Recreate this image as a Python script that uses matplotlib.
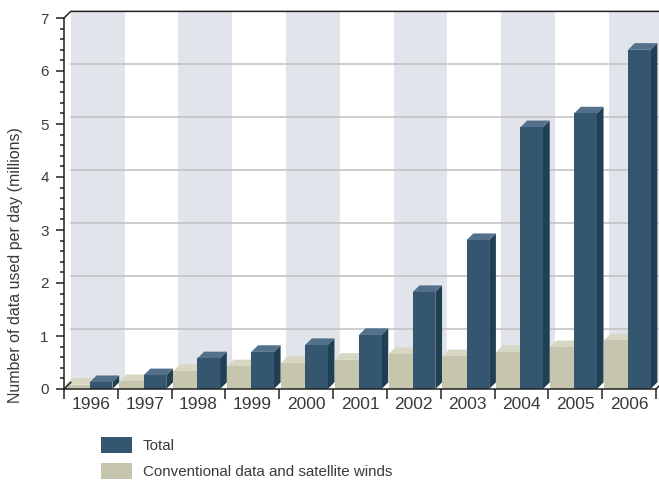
import matplotlib
matplotlib.use("Agg")
import matplotlib.pyplot as plt
from matplotlib.patches import Rectangle, Polygon
from matplotlib.ticker import MultipleLocator, FixedLocator, NullFormatter

plt.rcParams['font.family'] = ['Liberation Sans', 'DejaVu Sans']

years = ['1996', '1997', '1998', '1999', '2000', '2001',
         '2002', '2003', '2004', '2005', '2006']
total = [0.13, 0.26, 0.58, 0.70, 0.83, 1.02, 1.83, 2.81, 4.94, 5.20, 6.40]
conventional = [0.08, 0.15, 0.34, 0.43, 0.49, 0.55, 0.66, 0.62, 0.70, 0.79, 0.92]

TOTAL_FRONT, TOTAL_TOP, TOTAL_SIDE = '#35566f', '#53718a', '#213f53'
CONV_FRONT, CONV_TOP, CONV_SIDE = '#c6c6ae', '#d7d7c3', '#aeae96'
STRIPE = '#e2e4ec'
GRID = '#c0c0c0'
AXIS = '#222222'
TEXT = '#3a3a3a'

W, H = 659, 480
fig = plt.figure(figsize=(W / 100, H / 100), dpi=100)
ax = fig.add_axes([64 / W, 91 / H, 592 / W, 371 / H])
n = len(years)
ax.set_xlim(0, n)
ax.set_ylim(0, 7)

# depth offset of the pseudo-3d box (data units)
dx, dy = 0.125, 0.125

# back wall: alternating stripes and gridlines
for i in range(0, n, 2):
    ax.add_patch(Rectangle((i + dx, dy), 1, 7, facecolor=STRIPE,
                           edgecolor='none', clip_on=False, zorder=0))
for g in range(1, 7):
    ax.plot([dx, n + dx], [g + dy, g + dy], color=GRID, lw=1.1,
            clip_on=False, zorder=1)
# top edge and corner bevels
ax.plot([0, dx, n + dx], [7, 7 + dy, 7 + dy], color=AXIS, lw=1.1,
        clip_on=False, zorder=5)
ax.plot([0, dx], [0, dy], color=AXIS, lw=1.1, clip_on=False, zorder=5)
ax.plot([n, n + dx], [0, dy], color=AXIS, lw=1.1, clip_on=False, zorder=5)


def bar3d(x0, w, v, front, top, side):
    ax.add_patch(Polygon([(x0 + w, 0), (x0 + w + dx, dy), (x0 + w + dx, v + dy),
                          (x0 + w, v)], closed=True, facecolor=side,
                         edgecolor='none', zorder=3, clip_on=False))
    ax.add_patch(Polygon([(x0, v), (x0 + w, v), (x0 + w + dx, v + dy),
                          (x0 + dx, v + dy)], closed=True, facecolor=top,
                         edgecolor='none', zorder=3, clip_on=False))
    ax.add_patch(Rectangle((x0, 0), w, v, facecolor=front, edgecolor='none',
                           zorder=3, clip_on=False))


for i in range(n):
    bar3d(i + 0.03, 0.45, conventional[i], CONV_FRONT, CONV_TOP, CONV_SIDE)
    bar3d(i + 0.48, 0.42, total[i], TOTAL_FRONT, TOTAL_TOP, TOTAL_SIDE)

for s in ['top', 'right']:
    ax.spines[s].set_visible(False)
for s in ['left', 'bottom']:
    ax.spines[s].set_color(AXIS)
    ax.spines[s].set_linewidth(1.1)
    ax.spines[s].set_zorder(6)
ax.patch.set_visible(False)

ax.yaxis.set_major_locator(MultipleLocator(1))
ax.yaxis.set_minor_locator(MultipleLocator(0.2))
ax.tick_params(axis='y', which='major', length=6, width=1.1, color=AXIS,
               labelsize=11, labelcolor=TEXT, pad=5)
ax.tick_params(axis='y', which='minor', length=3, width=1.1, color=AXIS)

ax.xaxis.set_major_locator(FixedLocator(range(n + 1)))
ax.xaxis.set_major_formatter(NullFormatter())
ax.xaxis.set_minor_locator(FixedLocator([i + 0.5 for i in range(n)]))
ax.set_xticklabels(years, minor=True)
ax.tick_params(axis='x', which='major', length=7, width=1.1, color=AXIS)
ax.tick_params(axis='x', which='minor', length=0, labelsize=12.5,
               labelcolor=TEXT, pad=6)

fig.text(16 / W, 1 - 265 / H, 'Number of data used per day (millions)',
         rotation=90, ha='center', va='center', fontsize=11.5, color=TEXT)

# legend
for k, (label, col) in enumerate([('Total', TOTAL_FRONT),
                                  ('Conventional data and satellite winds', CONV_FRONT)]):
    ytop = 437 + 26 * k
    fig.patches.append(Rectangle((101 / W, 1 - (ytop + 16) / H), 31 / W, 16 / H,
                                 transform=fig.transFigure, facecolor=col,
                                 edgecolor='none'))
    fig.text(143 / W, 1 - (ytop + 8.5) / H, label, ha='left', va='center',
             fontsize=10.9, color=TEXT)

fig.savefig('out.png', dpi=100)
